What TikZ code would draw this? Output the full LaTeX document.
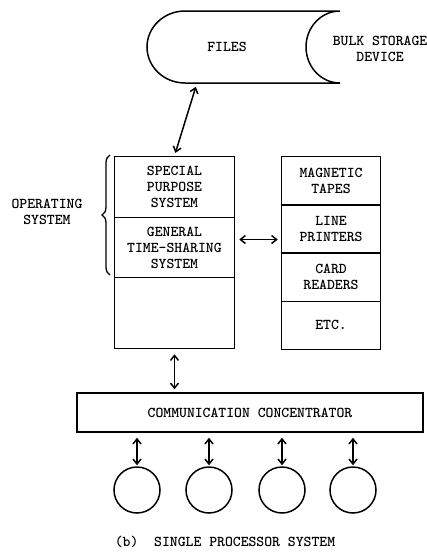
\documentclass[tikz,border=0pt]{standalone}
\usetikzlibrary{arrows.meta,decorations.pathreplacing,positioning}
\begin{document}
\begin{tikzpicture}[x=1pt, y=-1pt, line width=1.5pt,
    every node/.style={inner sep=0pt, font=\ttfamily\bfseries\fontsize{15}{16}\selectfont},
    field/.style={draw, text width=120pt, align=center},
    unit/.style={draw, text width=99pt, minimum height=48.25pt, align=center},
    terminal/.style={draw, circle, minimum size=46pt},
    link/.style={{Straight Barb[length=5pt,width=8pt]}-{Straight Barb[length=5pt,width=8pt]}}]
\useasboundingbox (0,0) rectangle (427,558);
\draw (340,11) -- (185,11) arc[start angle=90, end angle=270, x radius=38pt, y radius=36pt]
  -- (340,83) arc[start angle=270, end angle=90, x radius=34pt, y radius=36pt];
\node (files) at (227,47) {FILES};
\node (bulk) [align=center] at (380,49) {BULK STORAGE\\DEVICE};
\coordinate (port) at (197,83);

\matrix (os) [anchor=north west, inner sep=0pt, row sep=-\pgflinewidth] at (113,155)
{
\node [field, minimum height=61pt] (sps) {SPECIAL\\PURPOSE\\SYSTEM}; \\
\node [field, minimum height=60pt] (gts) {GENERAL\\TIME-SHARING\\SYSTEM}; \\
\node [field, minimum height=71pt] (core) {}; \\
};
\matrix (io) [anchor=north west, inner sep=0pt, row sep=-\pgflinewidth] at (280,155)
{
\node [unit] (tapes) {MAGNETIC\\TAPES}; \\
\node [unit] (printers) {LINE\\PRINTERS}; \\
\node [unit] (readers) {CARD\\READERS}; \\
\node [unit] (etc) {ETC.}; \\
};

\draw [line width=1.3pt, decorate, decoration={brace, amplitude=8pt}] (110,275) -- (110,155);
\node (oslabel) [align=center] at (47,212) {OPERATING\\SYSTEM};

\node [draw, minimum width=346pt, minimum height=39pt] (cc) at (250,412.5) {COMMUNICATION CONCENTRATOR};
\foreach \x [count=\i] in {137,209,282,353}
  \node [terminal] (t\i) at (\x,490) {};

\draw [link, shorten <=4pt, shorten >=3pt] (port) -- (sps.north);
\draw [link, shorten <=4pt, shorten >=3pt] ([yshift=8pt]gts.east) -- ([yshift=8pt]gts.east -| printers.west);
\draw [link, shorten <=5pt, shorten >=3pt] (core.south) -- (core.south |- cc.north);
\foreach \i in {1,...,4}
  \draw [link, shorten <=5pt, shorten >=1pt] (t\i.north |- cc.south) -- (t\i.north);

\node (caption) at (225,542) {(b)~~SINGLE PROCESSOR SYSTEM};
\end{tikzpicture}
\end{document}
